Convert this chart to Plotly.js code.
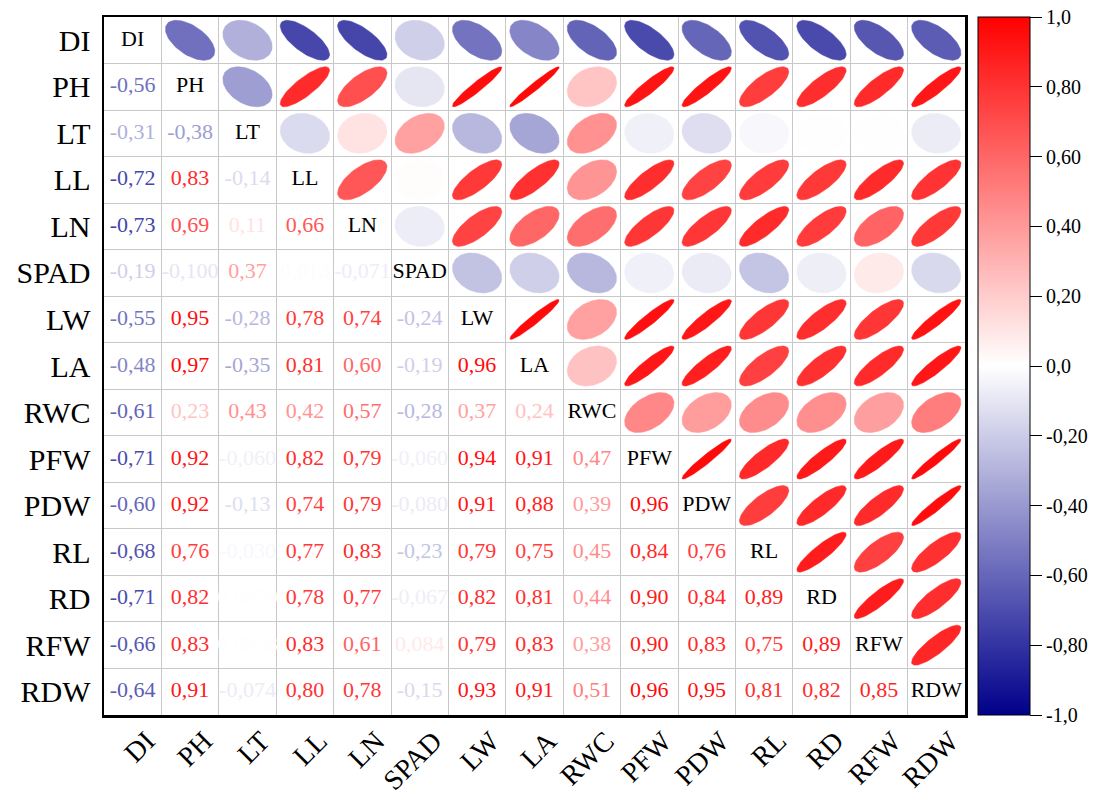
<!DOCTYPE html>
<html>
<head>
<meta charset="utf-8">
<script src="https://cdn.plot.ly/plotly-3.0.1.min.js"></script>
<style>html,body{margin:0;padding:0;background:#fff;}#chart{width:1093px;height:800px;}</style>
</head>
<body>
<div id="chart"></div>
<script>
// Variables (rows / columns of the correlation matrix)
const labels = ['DI','PH','LT','LL','LN','SPAD','LW','LA','RWC','PFW','PDW','RL','RD','RFW','RDW'];

// Lower-triangle correlation values, one array per row (columns DI .. previous variable)
const rDI   = [];
const rPH   = [-0.56];
const rLT   = [-0.31, -0.38];
const rLL   = [-0.72, 0.83, -0.14];
const rLN   = [-0.73, 0.69, 0.11, 0.66];
const rSPAD = [-0.19, -0.100, 0.37, 0.013, -0.071];
const rLW   = [-0.55, 0.95, -0.28, 0.78, 0.74, -0.24];
const rLA   = [-0.48, 0.97, -0.35, 0.81, 0.60, -0.19, 0.96];
const rRWC  = [-0.61, 0.23, 0.43, 0.42, 0.57, -0.28, 0.37, 0.24];
const rPFW  = [-0.71, 0.92, -0.060, 0.82, 0.79, -0.060, 0.94, 0.91, 0.47];
const rPDW  = [-0.60, 0.92, -0.13, 0.74, 0.79, -0.080, 0.91, 0.88, 0.39, 0.96];
const rRL   = [-0.68, 0.76, -0.030, 0.77, 0.83, -0.23, 0.79, 0.75, 0.45, 0.84, 0.76];
const rRD   = [-0.71, 0.82, 0.002, 0.78, 0.77, -0.067, 0.82, 0.81, 0.44, 0.90, 0.84, 0.89];
const rRFW  = [-0.66, 0.83, 0.0058, 0.83, 0.61, 0.084, 0.79, 0.83, 0.38, 0.90, 0.83, 0.75, 0.89];
const rRDW  = [-0.64, 0.91, -0.074, 0.80, 0.78, -0.15, 0.93, 0.91, 0.51, 0.96, 0.95, 0.81, 0.82, 0.85];

// Colour bar ticks
const cbVals = [1, 0.8, 0.6, 0.4, 0.2, 0, -0.2, -0.4, -0.6, -0.8, -1];
const cbText = ['1,0','0,80','0,60','0,40','0,20','0,0','-0,20','-0,40','-0,60','-0,80','-1,0'];

const rows = [rDI,rPH,rLT,rLL,rLN,rSPAD,rLW,rLA,rRWC,rPFW,rPDW,rRL,rRD,rRFW,rRDW];
const n = labels.length;
const idx = labels.map((_, i) => i);
const getR = (a, b) => (a > b ? rows[a][b] : rows[b][a]);

const NAVY = [0, 0, 139], WHITE = [255, 255, 255], RED = [255, 0, 0];
const colorscale = [[0, 'rgb(0,0,139)'], [0.5, 'rgb(255,255,255)'], [1, 'rgb(255,0,0)']];
function colorOf(r) {
  const end = r < 0 ? NAVY : RED;
  const f = Math.min(1, Math.abs(r));
  const c = WHITE.map((w, k) => Math.round(w + (end[k] - w) * f));
  return 'rgb(' + c.join(',') + ')';
}
function fmt(r) {
  const a = Math.abs(r);
  let s;
  if (a > 0.1 + 1e-9) s = r.toFixed(2);
  else if (a >= 0.01) s = r.toFixed(3);
  else s = r.toPrecision(2);
  return s.replace('.', ',');
}

const SERIF = 'Liberation Serif, Times New Roman, serif';
const traces = [];

// Ellipses in the upper triangle
const S = 0.43, NP = 72;
for (let i = 0; i < n; i++) {
  for (let j = i + 1; j < n; j++) {
    const r = getR(i, j);
    const d = Math.acos(Math.max(-1, Math.min(1, r)));
    const xs = [], ys = [];
    for (let k = 0; k <= NP; k++) {
      const t = 2 * Math.PI * k / NP;
      xs.push(j + S * Math.cos(t + d / 2));
      ys.push(i - S * Math.cos(t - d / 2));
    }
    const col = colorOf(r);
    traces.push({type: 'scatter', mode: 'lines', x: xs, y: ys, fill: 'toself',
      fillcolor: col, line: {color: col, width: 0.5}, hoverinfo: 'skip'});
  }
}

// Numbers in the lower triangle
const tx = [], ty = [], tt = [], tc = [];
for (let i = 0; i < n; i++) {
  for (let j = 0; j < i; j++) {
    const r = getR(i, j);
    tx.push(j); ty.push(i); tt.push(fmt(r)); tc.push(colorOf(r));
  }
}
traces.push({type: 'scatter', mode: 'text', x: tx, y: ty, text: tt,
  textfont: {family: SERIF, size: 22, color: tc}, hoverinfo: 'skip'});

// Diagonal names
traces.push({type: 'scatter', mode: 'text', x: idx, y: idx, text: labels,
  textfont: {family: SERIF, size: 22, color: 'black'}, hoverinfo: 'skip'});

// Colour bar carrier (points outside the visible range)
traces.push({type: 'scatter', mode: 'markers', x: [-5, -5], y: [-5, -5], hoverinfo: 'skip',
  marker: {color: [-1, 1], cmin: -1, cmax: 1, colorscale: colorscale, showscale: true, size: 1,
    colorbar: {x: 1.015, xanchor: 'left', xpad: 0, y: 0.5, yanchor: 'middle', len: 1, lenmode: 'fraction',
      ypad: 0, thickness: 52, thicknessmode: 'pixels', outlinewidth: 1, outlinecolor: 'black',
      tickmode: 'array', tickvals: cbVals, ticktext: cbText, ticks: 'outside', ticklen: 12,
      tickcolor: 'black', tickwidth: 1, tickfont: {family: SERIF, size: 20, color: 'black'}}}});

const axisCommon = {
  tickmode: 'array', tickvals: idx, ticktext: labels,
  showgrid: false, zeroline: false, showline: true, mirror: true,
  linecolor: 'black', linewidth: 2.5, ticks: '', fixedrange: true, automargin: false,
  minor: {tick0: 0.5, dtick: 1, showgrid: true, gridcolor: '#c8c8c8', gridwidth: 1, ticks: ''}
};

const layout = {
  width: 1093, height: 800,
  margin: {l: 104, r: 128, t: 17, b: 85, autoexpand: false},
  paper_bgcolor: 'white', plot_bgcolor: 'white',
  showlegend: false,
  xaxis: Object.assign({}, axisCommon, {range: [-0.5, n - 0.5], tickangle: -45,
    ticklabelstandoff: -4, ticklabelshift: 14,
    tickfont: {family: SERIF, size: 28, color: 'black'}}),
  yaxis: Object.assign({}, axisCommon, {range: [n - 0.5, -0.5], ticklabelstandoff: 5,
    tickfont: {family: SERIF, size: 30, color: 'black'}})
};

Plotly.newPlot('chart', traces, layout, {displayModeBar: false, staticPlot: true});
</script>
</body>
</html>
